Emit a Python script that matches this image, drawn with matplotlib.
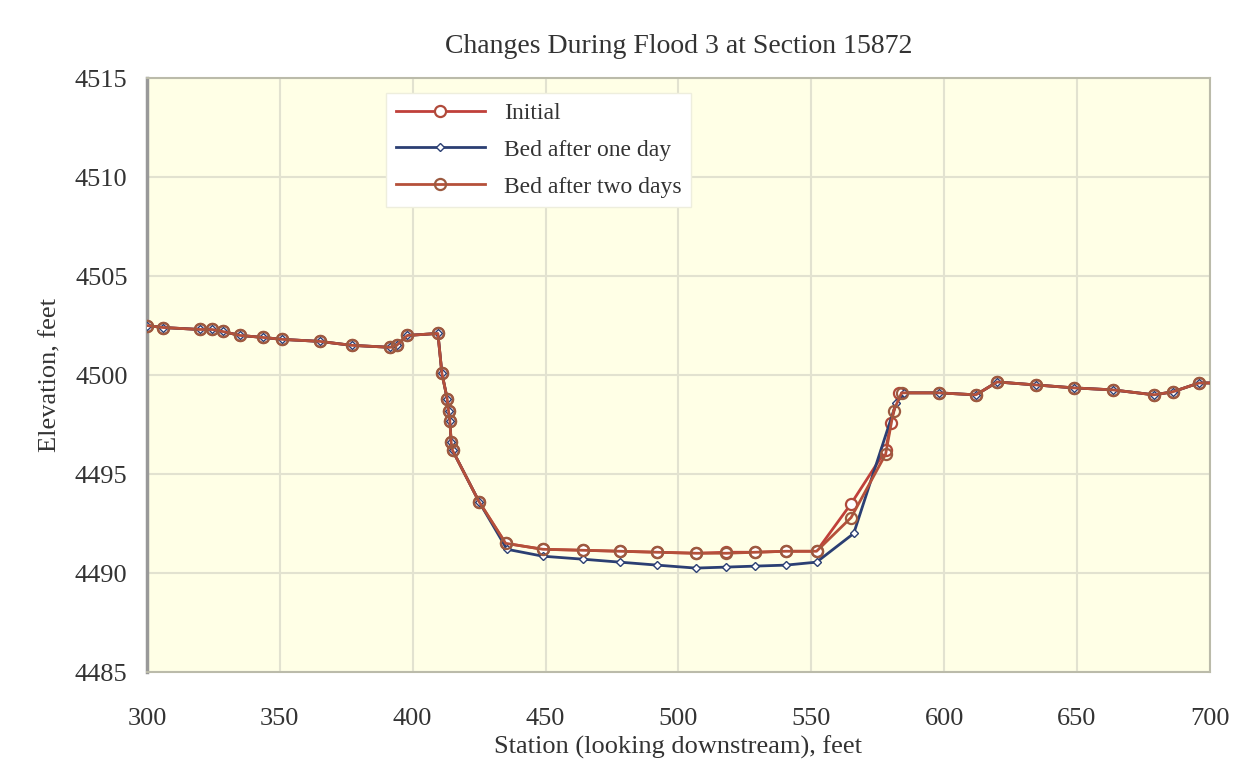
import matplotlib
matplotlib.use('Agg')
from matplotlib import pyplot as plt

plt.rcParams['font.family'] = ['Liberation Serif', 'DejaVu Serif']

# station (ft) and elevation (ft)
left_x = [300, 306, 320, 324.5, 328.5, 335, 343.5, 351, 365, 377, 391.5, 394, 398, 409.5,
          411, 413, 413.5, 414, 414.5, 415, 425, 435]
left_y = [4502.5, 4502.4, 4502.3, 4502.3, 4502.2, 4502.0, 4501.9, 4501.8, 4501.7, 4501.5, 4501.4, 4501.5, 4502.0, 4502.1,
          4500.1, 4498.8, 4498.2, 4497.7, 4496.6, 4496.2, 4493.6, 4491.5]

right_x = [598, 612, 620, 634.5, 649, 663.5, 679, 686, 696, 705]
right_y = [4499.1, 4499.0, 4499.65, 4499.5, 4499.35, 4499.25, 4499.0, 4499.15, 4499.6, 4499.6]

chan_x = [449, 464, 478, 492, 506.5, 518, 529, 540.5, 552]

initial_chan_y = [4491.2, 4491.15, 4491.1, 4491.05, 4491.0, 4491.05, 4491.05, 4491.1, 4491.1]
initial_bank_x = [565, 578, 580, 583]
initial_bank_y = [4493.5, 4496.2, 4497.6, 4499.1]

oneday_chan_y = [4490.85, 4490.7, 4490.55, 4490.4, 4490.25, 4490.3, 4490.35, 4490.4, 4490.55]
oneday_bank_x = [566, 582, 585]
oneday_bank_y = [4492.0, 4498.6, 4499.1]

twoday_chan_y = [4491.2, 4491.15, 4491.1, 4491.05, 4491.0, 4491.0, 4491.05, 4491.1, 4491.1]
twoday_bank_x = [565, 578, 581, 584]
twoday_bank_y = [4492.8, 4496.0, 4498.2, 4499.1]

initial_x = left_x + chan_x + initial_bank_x + right_x
initial_y = left_y + initial_chan_y + initial_bank_y + right_y
oneday_x = left_x[:-1] + [435.5] + chan_x + oneday_bank_x + right_x
oneday_y = left_y[:-1] + [4491.2] + oneday_chan_y + oneday_bank_y + right_y
twoday_x = left_x + chan_x + twoday_bank_x + right_x
twoday_y = left_y + twoday_chan_y + twoday_bank_y + right_y

fig = plt.figure(figsize=(12.38, 7.78), dpi=100)
ax = fig.add_axes([0.1187, 0.1362, 0.8585, 0.7635])
ax.set_facecolor('#FFFFE6')

ax.plot(initial_x, initial_y, color='#C0403A', lw=2, marker='o', ms=8, mfc='white', mec='#B04A3A', mew=1.6,
        label='Initial', zorder=3)
ax.plot(oneday_x, oneday_y, color='#2B3F73', lw=2, marker='D', ms=4, mfc='white', mec='#2B3F73', mew=1,
        label='Bed after one day', zorder=3)
ax.plot(twoday_x, twoday_y, color='#B5503A', lw=2, marker='o', ms=8, mfc='none', mec='#9C5A40', mew=1.6,
        label='Bed after two days', zorder=4)

ax.set_xlim(300, 700)
ax.set_ylim(4485, 4515)
ax.set_xticks(range(300, 701, 50))
ax.set_yticks(range(4485, 4516, 5))
ax.grid(True, color='#E2E2D0', lw=1.5)
ax.set_axisbelow(True)
ax.tick_params(length=0, labelsize=19, colors='#333333')
ax.tick_params(axis='x', pad=26)
ax.tick_params(axis='y', pad=14)
for s in ax.spines.values():
    s.set_color('#BBBBAA')
    s.set_linewidth(1.5)
ax.spines['left'].set_color('#999999')
ax.spines['left'].set_linewidth(2.5)

ax.set_title('Changes During Flood 3 at Section 15872', fontsize=20, color='#333333', pad=18)
ax.set_xlabel('Station (looking downstream), feet', fontsize=19, color='#333333', labelpad=4)
ax.set_ylabel('Elevation, feet', fontsize=19, color='#333333', labelpad=10)

leg = ax.legend(loc='upper left', bbox_to_anchor=(0.225, 0.975), fontsize=17, frameon=True, fancybox=False,
                handlelength=3.8, borderpad=0.4, labelspacing=0.65, borderaxespad=0)
leg.get_frame().set_facecolor('white')
leg.get_frame().set_edgecolor('#EEEEDD')
leg.get_frame().set_alpha(1)
for t in leg.get_texts():
    t.set_color('#333333')

fig.savefig('out.png', dpi=100, facecolor='white')
